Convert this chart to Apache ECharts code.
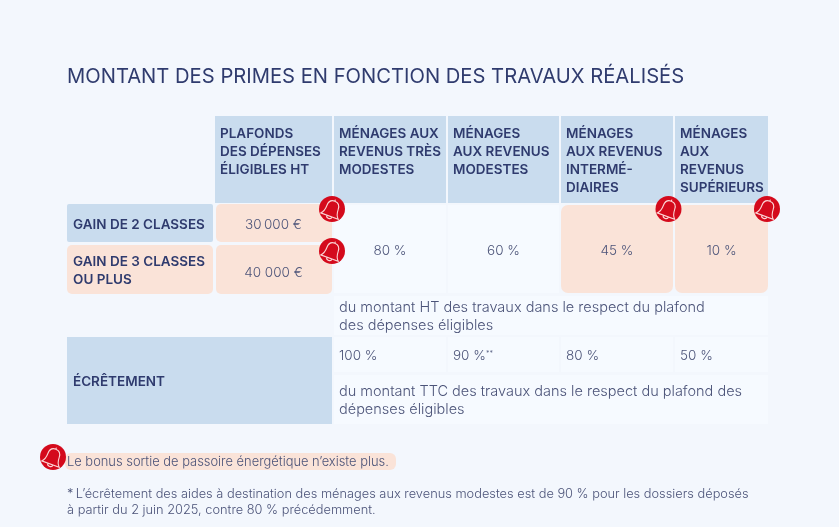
<!DOCTYPE html>
<html>
<head>
<meta charset="utf-8">
<style>html,body{margin:0;padding:0;background:#f3f7fd}#chart{width:839px;height:527px}</style>
<script src="https://cdn.jsdelivr.net/npm/echarts@6/dist/echarts.min.js"></script>
</head>
<body>
<div id="chart"></div>
<script>
var sTitle = 'MONTANT DES PRIMES EN FONCTION DES TRAVAUX RÉALISÉS';
var aColHeads = [
    'PLAFONDS\nDES DÉPENSES\nÉLIGIBLES HT',
    'MÉNAGES AUX\nREVENUS TRÈS\nMODESTES',
    'MÉNAGES\nAUX REVENUS\nMODESTES',
    'MÉNAGES\nAUX REVENUS\nINTERMÉ-\nDIAIRES',
    'MÉNAGES\nAUX\nREVENUS\nSUPÉRIEURS'
];
var aGains = ['GAIN DE 2 CLASSES', 'GAIN DE 3 CLASSES\nOU PLUS'];
var aPlafonds = ['30\u2009000 €', '40 000 €'];
var aPrimes = ['80 %', '60 %', '45 %', '10 %'];
var sPrimeNote = 'du montant HT des travaux dans le respect du plafond\ndes dépenses éligibles';
var sEcretement = 'ÉCRÊTEMENT';
var aEcretements = ['100 %', '90 %', '80 %', '50 %'];
var sEcretementNote = 'du montant TTC des travaux dans le respect du plafond des\ndépenses éligibles';
var sBonus = 'Le bonus sortie de passoire énergétique n’existe plus.';
var sFootnote = '*\u2009L’écrêtement des aides à destination des ménages aux revenus modestes est de 90 % pour les dossiers déposés\nà partir du 2 juin 2025, contre 80 % précédemment.';

// layout: pixel grid of the table
var aColLeft = [67, 215, 334, 448, 561, 675];
var aColRight = [213, 332, 446, 559, 673, 768];
var FONT = 'Inter';
var BLUE = '#c9dcee', PEACH = '#fae3d8', PALE = '#f6faff', RED = '#d40a1c';
var NAVY = '#2f3b6e', GREY = '#4c5479';

function box(x0, y0, x1, y1, fill, r) {
    return {value: [x0, y0, x1, y1], fill: fill, r: r || 0};
}
function label(x, y, text, o) {
    o = o || {};
    return {
        value: [x, y], text: text, bold: o.bold, size: o.size || 14.5, align: o.align || 'left',
        color: o.color || (o.bold ? NAVY : GREY), lh: o.lh || 18
    };
}

var aBoxes = [];
var aLabels = [];
aColHeads.forEach(function (s, i) {
    aBoxes.push(box(aColLeft[i + 1], 116, aColRight[i + 1], 203, BLUE));
    aLabels.push(label(aColLeft[i + 1] + 5, 125, s, {bold: true, size: 13.5}));
});
aBoxes.push(box(67, 204, 213, 242, BLUE, 2));
aBoxes.push(box(67, 245, 213, 294, PEACH, 5));
aLabels.push(label(73, 216, aGains[0], {bold: true, size: 13.5}));
aLabels.push(label(73, 253, aGains[1], {bold: true, size: 13.5}));
aBoxes.push(box(216, 204, 332, 242, PEACH, 5));
aBoxes.push(box(216, 245, 332, 294, PEACH, 5));
aLabels.push(label(273.5, 216, aPlafonds[0], {align: 'center', size: 13.5}));
aLabels.push(label(273.5, 264, aPlafonds[1], {align: 'center', size: 13.5}));
aPrimes.forEach(function (s, i) {
    var bPeach = i >= 2;
    aBoxes.push(box(aColLeft[i + 2], 205, aColRight[i + 2], 293, bPeach ? PEACH : PALE, bPeach ? 7 : 0));
    aLabels.push(label((aColLeft[i + 2] + aColRight[i + 2]) / 2, 242, s, {align: 'center', size: 13.5}));
});
aBoxes.push(box(334, 296, 768, 335, PALE));
aLabels.push(label(339, 299, sPrimeNote));
aBoxes.push(box(67, 337, 332, 424, BLUE));
aLabels.push(label(73, 373, sEcretement, {bold: true, size: 13.5}));
aEcretements.forEach(function (s, i) {
    aBoxes.push(box(aColLeft[i + 2], 337, aColRight[i + 2], 372, PALE));
    aLabels.push(label(aColLeft[i + 2] + 5, 347, s, {size: 13.5}));
});
aLabels.push(label(486, 345, '**', {size: 7}));
aBoxes.push(box(334, 375, 768, 424, PALE));
aLabels.push(label(339, 383, sEcretementNote, {lh: 17.5}));
aBoxes.push(box(65, 453, 396, 470, PEACH, 6));
aLabels.push(label(67, 453, sBonus, {size: 12.9}));
aLabels.push(label(67, 486, sFootnote, {size: 12.8, lh: 16}));

var aBells = [[332, 209], [332, 251], [668.5, 209], [767, 209], [53, 457]];
var sBellPath = 'M12 3C8 3 6.5 6 6.5 9.5C6.5 14 5 16 3.5 17.5H20.5C19 16 17.5 14 17.5 9.5C17.5 6 16 3 12 3ZM12 3V1.5M9.5 17.5C9.5 20.5 14.5 20.5 14.5 17.5';

var oChart = echarts.init(document.getElementById('chart'));
oChart.setOption({
    animation: false,
    backgroundColor: '#f3f7fd',
    title: {
        text: sTitle, left: 67, top: 67, padding: 0,
        textStyle: {fontFamily: FONT, fontSize: 20.2, fontWeight: 400, color: NAVY}
    },
    grid: {left: 0, right: 0, top: 0, bottom: 0},
    xAxis: {type: 'value', min: 0, max: 839, show: false},
    yAxis: {type: 'value', min: 0, max: 527, inverse: true, show: false},
    series: [
        {
            type: 'custom', coordinateSystem: 'cartesian2d', silent: true, z: 1,
            data: aBoxes,
            encode: {x: [0, 2], y: [1, 3]},
            renderItem: function (params, api) {
                var p0 = api.coord([api.value(0), api.value(1)]);
                var p1 = api.coord([api.value(2), api.value(3)]);
                var d = aBoxes[params.dataIndex];
                return {
                    type: 'rect',
                    shape: {x: p0[0], y: p0[1], width: p1[0] - p0[0], height: p1[1] - p0[1], r: d.r},
                    style: {fill: d.fill}
                };
            }
        },
        {
            type: 'custom', coordinateSystem: 'cartesian2d', silent: true, z: 2,
            data: aLabels,
            encode: {x: 0, y: 1},
            renderItem: function (params, api) {
                var p = api.coord([api.value(0), api.value(1)]);
                var d = aLabels[params.dataIndex];
                return {
                    type: 'text',
                    style: {
                        x: p[0], y: p[1], text: d.text, fill: d.color, align: d.align, verticalAlign: 'top',
                        fontFamily: FONT, fontSize: d.size, fontWeight: d.bold ? 600 : 300, lineHeight: d.lh
                    }
                };
            }
        },
        {
            type: 'custom', coordinateSystem: 'cartesian2d', silent: true, z: 3,
            data: aBells,
            encode: {x: 0, y: 1},
            renderItem: function (params, api) {
                var p = api.coord([api.value(0), api.value(1)]);
                return {
                    type: 'group',
                    children: [
                        {type: 'circle', shape: {cx: p[0], cy: p[1], r: 13}, style: {fill: RED}},
                        {
                            type: 'path',
                            x: p[0], y: p[1], rotation: -0.35, originX: 0, originY: 0,
                            shape: {pathData: sBellPath, x: -10, y: -10, width: 20, height: 20, layout: 'center'},
                            style: {fill: 'none', stroke: '#fbd5d5', lineWidth: 1.1}
                        }
                    ]
                };
            }
        }
    ]
});
</script>
</body>
</html>
